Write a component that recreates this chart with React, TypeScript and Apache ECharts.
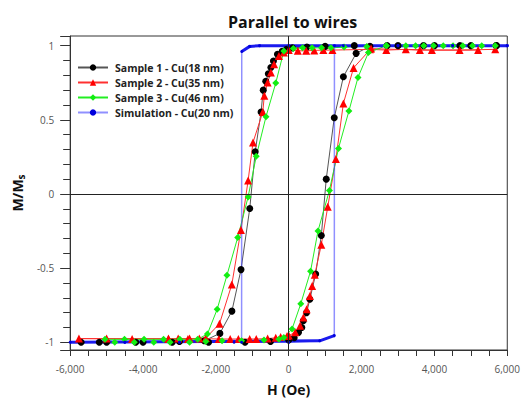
import React, { useEffect, useRef } from "react";
import * as echarts from "echarts";

const FONT = "'Open Sans', 'Noto Sans', sans-serif";

const titleText = "Parallel to wires";
const xName = "H (Oe)";
const names = [
  "Sample 1 - Cu(18 nm)",
  "Sample 2 - Cu(35 nm)",
  "Sample 3 - Cu(46 nm)",
  "Simulation - Cu(20 nm)",
];

// Sample 1 (black circles)
const s1DescH = [5700, 4700, 3700, 2700, 1800, 1000, 500, 100, -60, -180, -310, -420, -490, -560, -630, -700, -760, -920, -1070, -1310, -1560, -1890, -2320, -3000, -4000, -5000, -5700];
const s1DescM = [1.0, 1.0, 1.0, 1.0, 1.0, 0.995, 0.99, 0.985, 0.975, 0.962, 0.942, 0.897, 0.852, 0.81, 0.76, 0.7, 0.552, 0.285, -0.098, -0.51, -0.79, -0.94, -0.99, -0.995, -1.0, -1.0, -1.0];
const s1AscH = [-5200, -4200, -3200, -2200, -1200, -500, 0, 150, 270, 360, 400, 490, 580, 740, 895, 1030, 1250, 1500, 1850, 2230, 3000, 4000, 5000, 5700];
const s1AscM = [-1.0, -1.0, -1.0, -1.0, -1.0, -0.995, -0.985, -0.97, -0.933, -0.9, -0.855, -0.8, -0.71, -0.54, -0.28, 0.1, 0.514, 0.79, 0.948, 0.995, 1.0, 1.0, 1.0, 1.0];

// Sample 2 (red triangles)
const s2DescH = [5670, 4690, 3930, 3215, 2680, 2230, 1200, 950, 700, 480, 250, 0, -134, -268, -402, -490, -579, -670, -713, -981, -1115, -1312, -1562, -1900, -2277, -2767, -3300, -4300, -5760];
const s2DescM = [0.975, 0.97, 0.97, 0.975, 0.97, 0.975, 0.97, 0.97, 0.968, 0.965, 0.965, 0.97, 0.953, 0.93, 0.875, 0.819, 0.752, 0.663, 0.552, 0.347, 0.091, -0.243, -0.61, -0.875, -0.971, -0.978, -0.978, -0.978, -0.975];
const s2AscH = [-5000, -3303, -3035, -2722, -2454, -1918, -1607, -1382, -1071, -892, -579, -357, -223, -45, 0, 179, 313, 402, 492, 581, 643, 715, 894, 1071, 1295, 1500, 1780, 2260, 3600, 5200];
const s2AscM = [-0.975, -0.975, -0.975, -0.975, -0.975, -0.978, -0.978, -0.978, -0.978, -0.978, -0.975, -0.97, -0.965, -0.958, -0.955, -0.933, -0.889, -0.833, -0.778, -0.688, -0.621, -0.544, -0.343, -0.087, 0.236, 0.61, 0.85, 0.98, 0.97, 0.97];

// Sample 3 (green diamonds)
const s3DescH = [5670, 5046, 4511, 3975, 3482, 2679, 2143, 1519, 1161, 900, 640, 380, 126, -134, -356, -624, -892, -1115, -1401, -1696, -1964, -2232, -2500, -2990, -3437, -3972, -4508, -5044];
const s3DescM = [1.0, 1.0, 1.0, 1.0, 1.0, 1.0, 0.995, 0.99, 0.985, 0.985, 0.985, 0.985, 0.98, 0.964, 0.748, 0.521, 0.254, -0.02, -0.294, -0.548, -0.777, -0.944, -0.98, -0.98, -0.98, -0.98, -0.98, -0.98];
const s3AscH = [-4776, -4240, -3705, -3258, -2722, -2277, -1830, -1294, -678, -268, -134, 91, 331, 599, 804, 1117, 1366, 1652, 1902, 2188, 2679, 3215, 3707, 4243, 4779, 5300];
const s3AscM = [-1.0, -1.0, -1.0, -1.0, -1.0, -0.995, -0.99, -0.99, -0.985, -0.98, -0.967, -0.911, -0.74, -0.521, -0.249, 0.024, 0.307, 0.559, 0.786, 0.953, 1.0, 1.0, 1.0, 1.0, 1.0, 1.0];

// Simulation (blue)
const simH = [6000, 4500, 3000, 1500, 0, -800, -1070, -1290, -1294, -3000, -4500, -6000, -4500, -3000, -1500, 0, 850, 1251, 1255, 3000, 4500, 6000];
const simM = [1.0, 1.0, 1.0, 1.0, 1.0, 1.0, 0.995, 0.96, -1.0, -1.0, -1.0, -1.0, -1.0, -1.0, -1.0, -1.0, -0.99, -0.955, 1.0, 1.0, 1.0, 1.0];
const simTopH = [-1290, -1070, -800, 6000];
const simTopM = [0.96, 0.995, 1.0, 1.0];
const simBotH = [-6000, 850, 1251];
const simBotM = [-1.0, -0.99, -0.955];

const zip = (h: number[], m: number[]) => h.map((x, i) => [x, m[i]]);

export default function App() {
  const ref = useRef<HTMLDivElement>(null);
  useEffect(() => {
    const chart = echarts.init(ref.current!, null, { renderer: "svg" });
    const lineBase = { type: "line", animation: false, smooth: false, z: 2 } as any;
    const option: any = {
      animation: false,
      backgroundColor: "#fff",
      textStyle: { fontFamily: FONT },
      title: {
        text: titleText,
        left: 223,
        top: 9,
        textStyle: { fontFamily: FONT, fontWeight: "bold", fontSize: 16, color: "#111" },
      },
      grid: {
        left: 64,
        right: 11,
        top: 36,
        bottom: 48,
        show: true,
        borderColor: "#333",
        borderWidth: 1,
        backgroundColor: "transparent",
      },
      legend: {
        orient: "vertical",
        left: 72,
        top: 57,
        itemWidth: 30,
        itemHeight: 8,
        itemGap: 4,
        data: names,
        textStyle: { fontFamily: FONT, fontWeight: "bold", fontSize: 10.5, color: "#222", padding: [0, 0, 0, 2] },
      },
      xAxis: {
        type: "value",
        min: -6000,
        max: 6000,
        interval: 2000,
        name: xName,
        nameLocation: "middle",
        nameGap: 32,
        nameTextStyle: { fontFamily: FONT, fontWeight: "bold", fontSize: 14, color: "#111" },
        axisLine: { show: true, onZero: false, lineStyle: { color: "#333" } },
        axisTick: { show: true, length: 6, lineStyle: { color: "#333" } },
        minorTick: { show: true, splitNumber: 4, length: 6, lineStyle: { color: "#333" } },
        splitLine: { show: false },
        axisLabel: {
          fontFamily: FONT,
          fontSize: 10,
          color: "#555",
          margin: 14,
          formatter: (v: number) => v.toLocaleString("en-US"),
        },
      },
      yAxis: {
        type: "value",
        min: -1.052,
        max: 1.065,
        splitNumber: 5,
        name: "{m|M/M}{s|s}",
        nameLocation: "middle",
        nameGap: 36,
        nameTextStyle: {
          rich: {
            m: { fontFamily: FONT, fontWeight: "bold", fontSize: 14, color: "#111", lineHeight: 16 },
            s: { fontFamily: FONT, fontWeight: "bold", fontSize: 10, color: "#111", lineHeight: 10, padding: [8, 0, 0, 0] },
          },
        },
        axisLine: { show: true, onZero: false, lineStyle: { color: "#333" } },
        axisTick: { show: true, length: 10, lineStyle: { color: "#333" } },
        minorTick: { show: true, splitNumber: 5, length: 7, lineStyle: { color: "#333" } },
        splitLine: { show: false },
        axisLabel: {
          fontFamily: FONT,
          fontSize: 10,
          color: "#555",
          margin: 16,
          showMinLabel: false,
          showMaxLabel: false,
        },
      },
      series: [
        {
          ...lineBase,
          name: names[0],
          data: [...zip(s1DescH, s1DescM), ...zip(s1AscH, s1AscM)],
          symbol: "circle",
          symbolSize: 7,
          itemStyle: { color: "#000" },
          lineStyle: { color: "#555", width: 1 },
          markLine: {
            silent: true,
            symbol: ["none", "none"],
            animation: false,
            label: { show: false },
            lineStyle: { color: "#222", type: "solid", width: 1 },
            data: [{ xAxis: 0 }, { yAxis: 0 }],
          },
        },
        {
          ...lineBase,
          name: names[1],
          data: [...zip(s2DescH, s2DescM), ...zip(s2AscH, s2AscM)],
          symbol: "triangle",
          symbolSize: 8,
          itemStyle: { color: "#ff0000" },
          lineStyle: { color: "#ff3030", width: 1 },
        },
        {
          ...lineBase,
          name: names[2],
          data: [...zip(s3DescH, s3DescM), ...zip(s3AscH, s3AscM)],
          symbol: "diamond",
          symbolSize: 7,
          itemStyle: { color: "#11ee11" },
          lineStyle: { color: "#22ee22", width: 1 },
        },
        {
          ...lineBase,
          name: names[3],
          data: zip(simH, simM),
          symbol: "circle",
          symbolSize: 3,
          itemStyle: { color: "#0000dd" },
          lineStyle: { color: "rgba(70,70,255,0.6)", width: 1.5 },
        },
        {
          ...lineBase,
          name: "sim-top",
          data: zip(simTopH, simTopM),
          symbol: "none",
          lineStyle: { color: "#1a1aee", width: 3 },
        },
        {
          ...lineBase,
          name: "sim-bottom",
          data: zip(simBotH, simBotM),
          symbol: "none",
          lineStyle: { color: "#1a1aee", width: 3 },
        },
      ],
    };
    chart.setOption(option);
    return () => chart.dispose();
  }, []);
  return (
    <div
      ref={ref}
      style={{ position: "absolute", left: 0, top: 0, width: 523, height: 401 }}
    />
  );
}
